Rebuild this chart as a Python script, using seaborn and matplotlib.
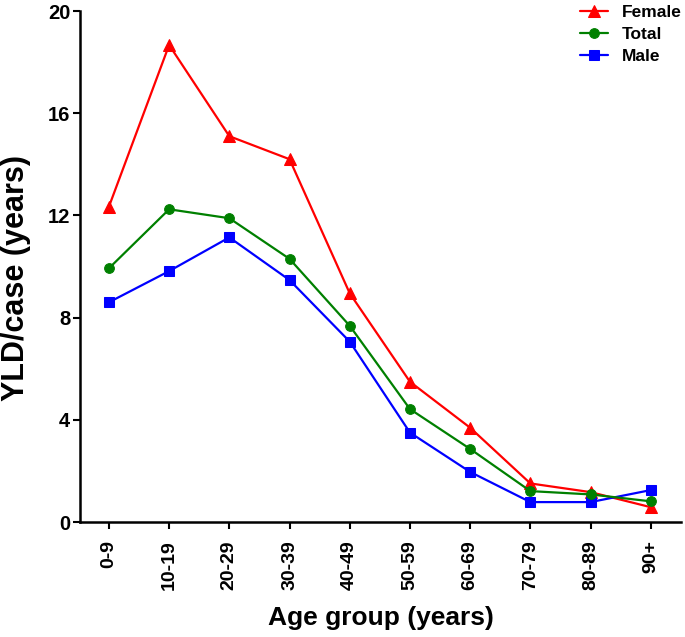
import matplotlib
matplotlib.use("Agg")
import matplotlib.pyplot as plt
import seaborn as sns
import pandas as pd
import numpy as np

age_groups = ["0-9", "10-19", "20-29", "30-39", "40-49", "50-59", "60-69", "70-79", "80-89", "90+"]
female = [12.34, 18.67, 15.1, 14.2, 8.95, 5.49, 3.69, 1.51, 1.17, 0.58]
total = [9.93, 12.24, 11.89, 10.3, 7.68, 4.42, 2.86, 1.21, 1.08, 0.81]
male = [8.6, 9.82, 11.14, 9.47, 7.06, 3.5, 1.96, 0.78, 0.78, 1.25]
y_ticks = [0, 4, 8, 12, 16, 20]

sns.set_style("ticks")
plt.rcParams["font.family"] = ["Liberation Sans", "DejaVu Sans"]
plt.rcParams["font.weight"] = "bold"
plt.rcParams["text.color"] = "black"
plt.rcParams["axes.labelcolor"] = "black"
plt.rcParams["xtick.color"] = "black"
plt.rcParams["ytick.color"] = "black"
plt.rcParams["axes.edgecolor"] = "black"

fig = plt.figure(figsize=(6.85, 6.37), dpi=100)
ax = fig.add_axes([0.1168, 0.1805, 0.994 - 0.1168, 0.9827 - 0.1805])

idx = np.arange(len(age_groups))
series = [
    ("Female", female, "#FF0000", "^", 8.5),
    ("Male", male, "#0000FF", "s", 6.5),
    ("Total", total, "#008000", "o", 7),
]
for name, vals, col, mk, ms in series:
    df = pd.DataFrame({"x": idx, "y": vals})
    sns.lineplot(data=df, x="x", y="y", ax=ax, color=col, marker=mk,
                 markersize=ms, markeredgecolor=col, linewidth=1.6, label=name)

h, l = ax.get_legend_handles_labels()
order = [l.index("Female"), l.index("Total"), l.index("Male")]
leg = ax.legend([h[i] for i in order], [l[i] for i in order], loc="upper right",
                bbox_to_anchor=(1.027, 1.042), frameon=False, fontsize=12.5,
                handlelength=1.6, handletextpad=0.8, labelspacing=0.38)
for t in leg.get_texts():
    t.set_fontweight("bold")
    t.set_color("black")

ax.set_xlim(-0.48, 9.5)
ax.set_ylim(0, 20)
ax.set_yticks(y_ticks)
ax.set_yticklabels([str(v) for v in y_ticks], fontsize=14.5, fontweight="bold")
ax.set_xticks(idx)
ax.set_xticklabels(age_groups, rotation=90, fontsize=14, fontweight="bold")
ax.set_xlabel("Age group (years)", fontsize=19, fontweight="bold", labelpad=12)
ax.set_ylabel("YLD/case (years)", fontsize=22, fontweight="bold")
ax.yaxis.set_label_coords(-0.082, 0.477)

for s in ["top", "right"]:
    ax.spines[s].set_visible(False)
for s in ["left", "bottom"]:
    ax.spines[s].set_linewidth(1.8)
ax.tick_params(axis="x", width=1.5, length=5, pad=8)
ax.tick_params(axis="y", width=1.5, length=5, pad=2)

fig.savefig("out.png", dpi=100)
